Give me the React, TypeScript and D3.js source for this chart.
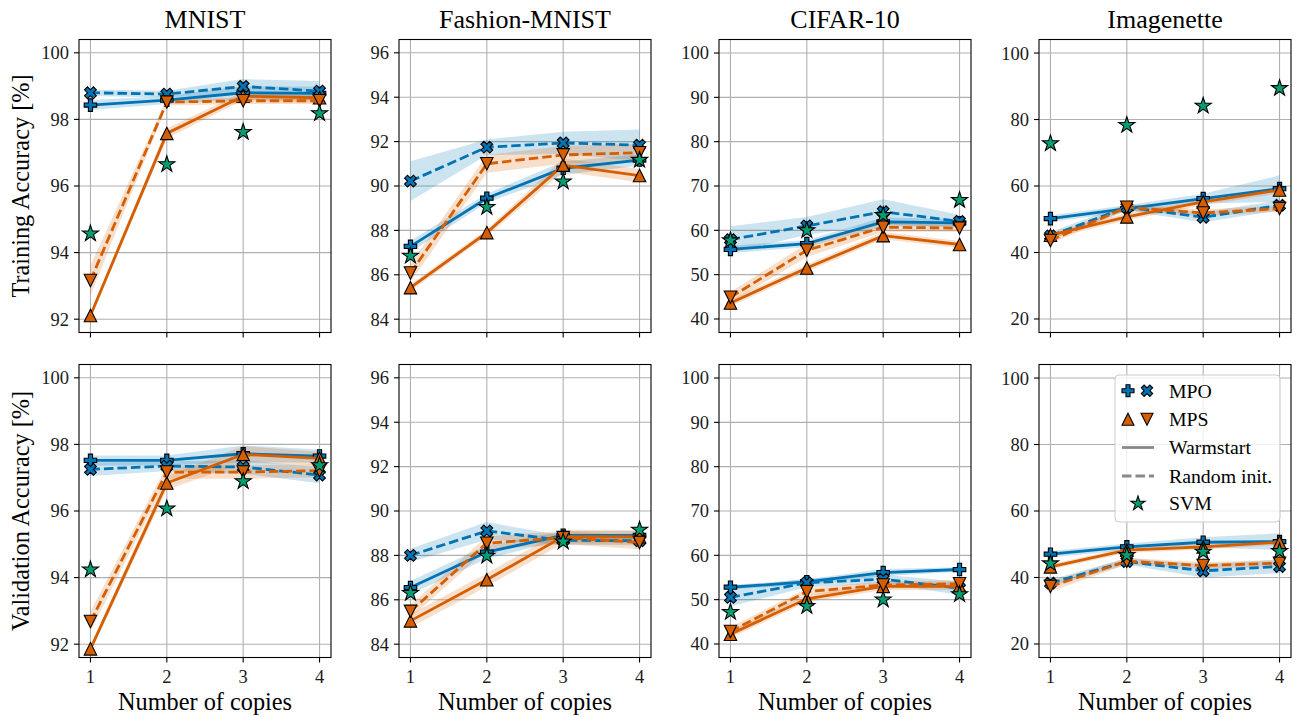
import React from "react";
import * as d3 from "d3";

const copies = [1, 2, 3, 4];
const datasets = ["MNIST", "Fashion-MNIST", "CIFAR-10", "Imagenette"];
const rowLabels = ["Training Accuracy [%]", "Validation Accuracy [%]"];
const yDomains = [[91.6, 100.4], [83.4, 96.6], [36.95, 103.05], [15.93, 104.07]];
const yTicks = [[92, 94, 96, 98, 100], [84, 86, 88, 90, 92, 94, 96], [40, 50, 60, 70, 80, 90, 100], [20, 40, 60, 80, 100]];

// Training (per dataset: MNIST, Fashion-MNIST, CIFAR-10, Imagenette)
const trainMpoWarm = [[98.43, 98.58, 98.8, 98.78], [87.28, 89.45, 90.8, 91.17], [55.7, 57.0, 61.9, 61.7], [50.2, 53.2, 56.2, 59.2]];
const trainMpoWarmStd = [[0.15, 0.12, 0.2, 0.2], [0.25, 0.2, 0.3, 0.25], [0.8, 0.8, 1.0, 0.8], [1.0, 1.0, 1.5, 4.0]];
const trainMpoRandom = [[98.8, 98.76, 98.99, 98.85], [90.22, 91.75, 91.94, 91.84], [57.9, 61.0, 64.2, 62.0], [45.0, 53.6, 50.6, 54.2]];
const trainMpoRandomStd = [[0.1, 0.1, 0.22, 0.3], [0.9, 0.35, 0.5, 0.7], [3.0, 2.0, 2.8, 1.5], [1.2, 1.0, 1.5, 1.5]];
const trainMpsWarm = [[92.11, 97.58, 98.7, 98.65], [85.42, 87.9, 90.94, 90.47], [43.6, 51.5, 58.8, 56.8], [45.2, 50.7, 55.2, 58.8]];
const trainMpsWarmStd = [[0.1, 0.15, 0.12, 0.15], [0.15, 0.15, 0.3, 0.3], [0.8, 0.8, 0.8, 0.8], [1.0, 1.0, 1.0, 1.0]];
const trainMpsRandom = [[93.16, 98.52, 98.56, 98.56], [86.08, 91.0, 91.4, 91.5], [44.9, 55.5, 60.7, 60.5], [43.6, 53.6, 51.9, 53.2]];
const trainMpsRandomStd = [[0.45, 0.1, 0.1, 0.1], [0.4, 0.4, 0.4, 0.4], [1.2, 1.5, 1.0, 0.8], [1.0, 1.0, 1.0, 1.0]];
const trainSvm = [[94.57, 96.65, 97.62, 98.18], [86.85, 89.05, 90.2, 91.17], [57.7, 60.0, 63.4, 66.8], [72.8, 78.3, 84.1, 89.4]];

// Validation
const valMpoWarm = [[97.52, 97.52, 97.72, 97.65], [86.55, 88.15, 88.9, 88.9], [52.8, 54.0, 56.1, 56.8], [47.0, 49.2, 50.6, 50.8]];
const valMpoWarmStd = [[0.15, 0.15, 0.25, 0.2], [0.3, 0.3, 0.2, 0.2], [0.5, 0.6, 0.8, 0.5], [1.0, 1.0, 1.5, 2.5]];
const valMpoRandom = [[97.25, 97.35, 97.32, 97.08], [88.0, 89.1, 88.68, 88.66], [50.5, 53.8, 54.6, 52.6], [38.3, 44.8, 42.0, 43.3]];
const valMpoRandomStd = [[0.2, 0.15, 0.2, 0.25], [0.3, 0.4, 0.2, 0.2], [2.0, 1.0, 1.0, 1.5], [1.0, 1.0, 2.0, 2.0]];
const valMpsWarm = [[91.86, 96.84, 97.7, 97.58], [85.05, 86.9, 88.85, 88.84], [42.2, 50.2, 53.0, 53.0], [43.2, 48.2, 49.2, 50.6]];
const valMpsWarmStd = [[0.1, 0.2, 0.25, 0.2], [0.3, 0.3, 0.3, 0.3], [0.8, 0.8, 0.8, 0.8], [0.8, 0.8, 0.8, 0.8]];
const valMpsRandom = [[92.68, 97.17, 97.17, 97.21], [85.48, 88.55, 88.8, 88.58], [42.8, 51.8, 53.3, 53.6], [37.3, 44.9, 43.6, 44.3]];
const valMpsRandomStd = [[0.3, 0.2, 0.2, 0.2], [0.3, 0.3, 0.3, 0.3], [1.0, 0.8, 0.8, 0.8], [1.5, 1.0, 1.0, 1.0]];
const valSvm = [[94.24, 96.07, 96.89, 97.37], [86.3, 87.98, 88.62, 89.15], [47.2, 48.5, 50.0, 51.2], [44.2, 46.7, 47.7, 47.9]];

const BLUE = "#0173b2";
const ORANGE = "#d55e00";
const GREEN = "#029e73";
const FONT = "'Liberation Serif', 'Times New Roman', serif";

const colLeft = [79, 399, 719, 1039];
const rowTop = [39.5, 364.5];
const PW = 252;
const PH = 293;

type Shape = "plus" | "x" | "up" | "down" | "star";

function markerPath(shape: Shape, S: number): string {
  const h = S / 2;
  const a = S / 6;
  if (shape === "plus" || shape === "x") {
    const pts = [[-a, -h], [a, -h], [a, -a], [h, -a], [h, a], [a, a], [a, h], [-a, h], [-a, a], [-h, a], [-h, -a], [-a, -a]];
    const ang = shape === "x" ? Math.PI / 4 : 0;
    const c = Math.cos(ang), s = Math.sin(ang);
    return "M" + pts.map(([x, y]) => `${(x * c - y * s).toFixed(2)},${(x * s + y * c).toFixed(2)}`).join("L") + "Z";
  }
  if (shape === "up") return `M0,${-h}L${h},${h}L${-h},${h}Z`;
  if (shape === "down") return `M0,${h}L${h},${-h}L${-h},${-h}Z`;
  const R = h, r = h * 0.381966;
  const pts: string[] = [];
  for (let i = 0; i < 10; i++) {
    const rad = i % 2 === 0 ? R : r;
    const t = -Math.PI / 2 + (i * Math.PI) / 5;
    pts.push(`${(rad * Math.cos(t)).toFixed(2)},${(rad * Math.sin(t)).toFixed(2)}`);
  }
  return "M" + pts.join("L") + "Z";
}

interface Series {
  mean: number[];
  std?: number[];
  color: string;
  shape: Shape;
  dashed?: boolean;
  line: boolean;
  size: number;
}

const MS = 12.5;
const STAR = 17;

function Panel({ row, col }: { row: number; col: number }) {
  const left = colLeft[col];
  const top = rowTop[row];
  const x = d3.scaleLinear().domain([0.85, 4.15]).range([left, left + PW]);
  const y = d3.scaleLinear().domain(yDomains[col]).range([top + PH, top]);
  const series: Series[] = row === 0
    ? [
        { mean: trainMpoWarm[col], std: trainMpoWarmStd[col], color: BLUE, shape: "plus", line: true, size: MS },
        { mean: trainMpoRandom[col], std: trainMpoRandomStd[col], color: BLUE, shape: "x", dashed: true, line: true, size: MS },
        { mean: trainMpsWarm[col], std: trainMpsWarmStd[col], color: ORANGE, shape: "up", line: true, size: MS },
        { mean: trainMpsRandom[col], std: trainMpsRandomStd[col], color: ORANGE, shape: "down", dashed: true, line: true, size: MS },
        { mean: trainSvm[col], color: GREEN, shape: "star", line: false, size: STAR },
      ]
    : [
        { mean: valMpoWarm[col], std: valMpoWarmStd[col], color: BLUE, shape: "plus", line: true, size: MS },
        { mean: valMpoRandom[col], std: valMpoRandomStd[col], color: BLUE, shape: "x", dashed: true, line: true, size: MS },
        { mean: valMpsWarm[col], std: valMpsWarmStd[col], color: ORANGE, shape: "up", line: true, size: MS },
        { mean: valMpsRandom[col], std: valMpsRandomStd[col], color: ORANGE, shape: "down", dashed: true, line: true, size: MS },
        { mean: valSvm[col], color: GREEN, shape: "star", line: false, size: STAR },
      ];
  const lineGen = d3.line<number>().x((_, i) => x(copies[i])).y((d) => y(d));
  const areaGen = (m: number[], s: number[]) =>
    d3.area<number>().x((_, i) => x(copies[i])).y0((d, i) => y(d - s[i])).y1((d, i) => y(d + s[i]))(m) || "";
  const clipId = `clip-${row}-${col}`;
  return (
    <g>
      <defs>
        <clipPath id={clipId}>
          <rect x={left} y={top} width={PW} height={PH} />
        </clipPath>
      </defs>
      {copies.map((c) => (
        <line key={"gx" + c} x1={x(c)} x2={x(c)} y1={top} y2={top + PH} stroke="#b0b0b0" strokeWidth={1.1} />
      ))}
      {yTicks[col].map((t) => (
        <line key={"gy" + t} x1={left} x2={left + PW} y1={y(t)} y2={y(t)} stroke="#b0b0b0" strokeWidth={1.1} />
      ))}
      <g clipPath={`url(#${clipId})`}>
        {series.filter((s) => s.std).map((s, i) => (
          <path key={"band" + i} d={areaGen(s.mean, s.std!)} fill={s.color} fillOpacity={0.2} stroke="none" />
        ))}
        {series.map((s, i) => (
          <g key={"s" + i}>
            {s.line && (
              <path d={lineGen(s.mean) || ""} fill="none" stroke={s.color} strokeWidth={2.8}
                strokeDasharray={s.dashed ? "9.5,4" : undefined} />
            )}
            {s.mean.map((v, j) => (
              <path key={j} d={markerPath(s.shape, s.size)} transform={`translate(${x(copies[j])},${y(v)})`}
                fill={s.color} stroke="#000" strokeWidth={1.1} strokeLinejoin="miter" />
            ))}
          </g>
        ))}
      </g>
      <rect x={left} y={top} width={PW} height={PH} fill="none" stroke="#000" strokeWidth={1.1} />
      {yTicks[col].map((t) => (
        <g key={"ty" + t}>
          <line x1={left - 5} x2={left} y1={y(t)} y2={y(t)} stroke="#000" strokeWidth={1.1} />
          <text x={left - 10} y={y(t)} dy="0.35em" textAnchor="end" fontSize={18.5} fontFamily={FONT} fill="#1a1a1a">{t}</text>
        </g>
      ))}
      {copies.map((c) => (
        <g key={"tx" + c}>
          <line x1={x(c)} x2={x(c)} y1={top + PH} y2={top + PH + 5} stroke="#000" strokeWidth={1.1} />
          {row === 1 && (
            <text x={x(c)} y={top + PH + 25.5} textAnchor="middle" fontSize={18.5} fontFamily={FONT} fill="#1a1a1a">{c}</text>
          )}
        </g>
      ))}
      {row === 0 && (
        <text x={left + PW / 2} y={28} textAnchor="middle" fontSize={26} fontFamily={FONT} fill="#000">{datasets[col]}</text>
      )}
      {row === 1 && (
        <text x={left + PW / 2} y={710} textAnchor="middle" fontSize={24.3} fontFamily={FONT} fill="#000">Number of copies</text>
      )}
      {col === 0 && (
        <text transform={`translate(29,${top + PH / 2}) rotate(-90)`} textAnchor="middle" fontSize={24.3} fontFamily={FONT} fill="#000">
          {rowLabels[row]}
        </text>
      )}
    </g>
  );
}

function Legend() {
  const lx = 1115, ly = 375;
  const rows = [390.7, 419.3, 447.5, 476, 503.5];
  const tx = 1169;
  const fs = 19.8;
  return (
    <g>
      <rect x={lx} y={ly} width={165} height={147} rx={4} fill="#fff" fillOpacity={0.8} stroke="#cccccc" strokeWidth={1} />
      <path d={markerPath("plus", 12)} transform={`translate(1128,${rows[0]})`} fill={BLUE} stroke="#000" strokeWidth={1.1} />
      <path d={markerPath("x", 12)} transform={`translate(1147,${rows[0]})`} fill={BLUE} stroke="#000" strokeWidth={1.1} />
      <text x={tx} y={rows[0]} dy="0.35em" fontSize={fs} fontFamily={FONT}>MPO</text>
      <path d={markerPath("up", 12)} transform={`translate(1128,${rows[1]})`} fill={ORANGE} stroke="#000" strokeWidth={1.1} />
      <path d={markerPath("down", 12)} transform={`translate(1147,${rows[1]})`} fill={ORANGE} stroke="#000" strokeWidth={1.1} />
      <text x={tx} y={rows[1]} dy="0.35em" fontSize={fs} fontFamily={FONT}>MPS</text>
      <line x1={1122} x2={1154} y1={rows[2]} y2={rows[2]} stroke="#888" strokeWidth={2.8} />
      <text x={tx} y={rows[2]} dy="0.35em" fontSize={fs} fontFamily={FONT}>Warmstart</text>
      <line x1={1122} x2={1154} y1={rows[3]} y2={rows[3]} stroke="#888" strokeWidth={2.8} strokeDasharray="9.5,4" />
      <text x={tx} y={rows[3]} dy="0.35em" fontSize={fs} fontFamily={FONT}>Random init.</text>
      <path d={markerPath("star", 15)} transform={`translate(1138,${rows[4]})`} fill={GREEN} stroke="#000" strokeWidth={1.1} />
      <text x={tx} y={rows[4]} dy="0.35em" fontSize={fs} fontFamily={FONT}>SVM</text>
    </g>
  );
}

export default function App() {
  return (
    <svg width={1303} height={717} style={{ position: "absolute", left: 0, top: 0, background: "#fff" }}>
      <rect width={1303} height={717} fill="#fff" />
      {[0, 1].map((r) => [0, 1, 2, 3].map((c) => <Panel key={`${r}-${c}`} row={r} col={c} />))}
      <Legend />
    </svg>
  );
}
